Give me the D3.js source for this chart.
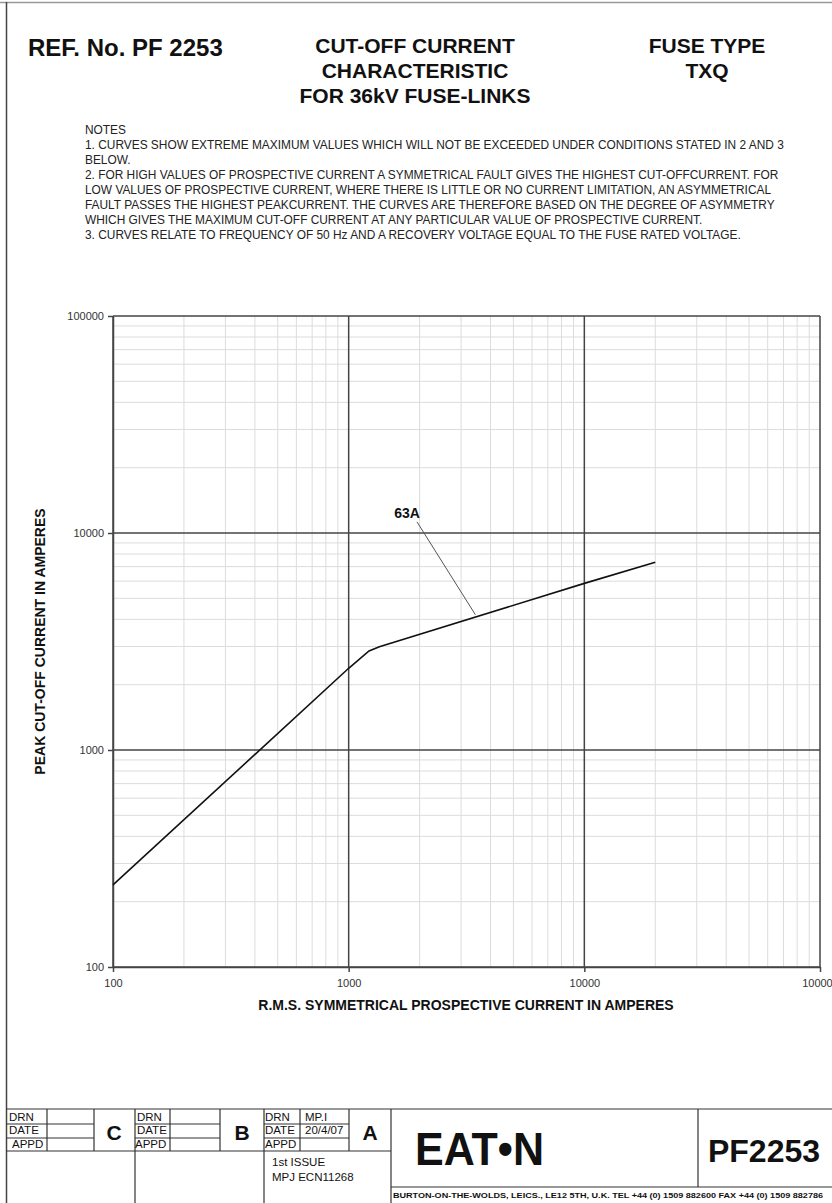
<!DOCTYPE html>
<html><head><meta charset="utf-8">
<script src="https://cdn.jsdelivr.net/npm/d3@7"></script>
<style>
html,body{margin:0;padding:0;background:#fff;}
svg{display:block;font-family:"Liberation Sans",Arial,sans-serif;}
</style></head>
<body>
<svg id="c" width="832" height="1203"></svg>
<script>
// ---- data ----
const prospective = [100, 1000, 1220, 1350, 10000, 20000];      // A rms
const cutoff63A   = [239, 2380, 2860, 2990, 5860, 7340];        // A peak
const xTickValues = [100, 1000, 10000, 100000];
const xTickLabels = ["100", "1000", "10000", "100000"];
const yTickValues = [100, 1000, 10000, 100000];
const yTickLabels = ["100", "1000", "10000", "100000"];
const curveLabel = "63A";
const labelAnchor = [1768, 11720];
const pointerFrom = [1950, 11250];
const pointerTo = [3450, 4200];
const notes = [
 "NOTES",
 "1. CURVES SHOW EXTREME MAXIMUM VALUES WHICH WILL NOT BE EXCEEDED UNDER CONDITIONS STATED IN 2 AND 3",
 "BELOW.",
 "2. FOR HIGH VALUES OF PROSPECTIVE CURRENT A SYMMETRICAL FAULT GIVES THE HIGHEST CUT-OFFCURRENT. FOR",
 "LOW VALUES OF PROSPECTIVE CURRENT, WHERE THERE IS LITTLE OR NO CURRENT LIMITATION, AN ASYMMETRICAL",
 "FAULT PASSES THE HIGHEST PEAKCURRENT. THE CURVES ARE THEREFORE BASED ON THE DEGREE OF ASYMMETRY",
 "WHICH GIVES THE MAXIMUM CUT-OFF CURRENT AT ANY PARTICULAR VALUE OF PROSPECTIVE CURRENT.",
 "3. CURVES RELATE TO FREQUENCY OF 50 Hz AND A RECOVERY VOLTAGE EQUAL TO THE FUSE RATED VOLTAGE."
];

const svg = d3.select("#c");
const L = 113, R = 820, T = 316, B = 967;
const x = d3.scaleLog().domain([100, 100000]).range([L, R]);
const y = d3.scaleLog().domain([100, 100000]).range([B, T]);

// page frame
svg.append("line").attr("x1",0).attr("x2",832).attr("y1",2.5).attr("y2",2.5).attr("stroke","#999").attr("stroke-width",1.5);
svg.append("line").attr("x1",6.5).attr("x2",6.5).attr("y1",2).attr("y2",1203).attr("stroke","#444").attr("stroke-width",1.5);

// titles
const tt = svg.append("g").attr("font-weight","bold").attr("fill","#111");
tt.append("text").attr("x",28).attr("y",56).attr("font-size",24).text("REF. No. PF 2253");
[["CUT-OFF CURRENT",53],["CHARACTERISTIC",78],["FOR 36kV FUSE-LINKS",103]].forEach(d=>{
  tt.append("text").attr("x",415).attr("y",d[1]).attr("font-size",21).attr("text-anchor","middle").text(d[0]);
});
[["FUSE TYPE",53],["TXQ",78]].forEach(d=>{
  tt.append("text").attr("x",707).attr("y",d[1]).attr("font-size",21).attr("text-anchor","middle").text(d[0]);
});

// notes
const ng = svg.append("g").attr("font-size",11.9).attr("fill","#222");
notes.forEach((s,i)=>{
  ng.append("text").attr("x",85).attr("y",134+i*15).text(s);
});

// minor grid
const minors = [];
for (let d=100; d<100000; d*=10) for (let k=2;k<=9;k++) minors.push(d*k);
const g = svg.append("g");
g.selectAll(".vx").data(minors).join("line")
  .attr("x1",d=>x(d)).attr("x2",d=>x(d)).attr("y1",T).attr("y2",B)
  .attr("stroke","#dcdcdc").attr("stroke-width",1);
g.selectAll(".hy").data(minors).join("line")
  .attr("y1",d=>y(d)).attr("y2",d=>y(d)).attr("x1",L).attr("x2",R)
  .attr("stroke","#dcdcdc").attr("stroke-width",1);
// major grid
g.selectAll(".mx").data(xTickValues).join("line")
  .attr("x1",d=>x(d)).attr("x2",d=>x(d)).attr("y1",T).attr("y2",B)
  .attr("stroke","#444").attr("stroke-width",1.5);
g.selectAll(".my").data(yTickValues).join("line")
  .attr("y1",d=>y(d)).attr("y2",d=>y(d)).attr("x1",L).attr("x2",R)
  .attr("stroke","#444").attr("stroke-width",1.5);

// axes
const xAxis = d3.axisBottom(x).tickValues(xTickValues).tickFormat((d,i)=>xTickLabels[i]).tickSize(5).tickSizeOuter(0);
const xa = svg.append("g").attr("transform",`translate(0,${B})`).call(xAxis);
xa.select(".domain").attr("stroke","#444").attr("stroke-width",1.5);
xa.selectAll(".tick line").attr("stroke","#444").attr("stroke-width",1.5);
xa.selectAll(".tick text").attr("font-size",11).attr("fill","#333").attr("dy","0.35em").attr("y",16)
  .attr("font-family","Liberation Sans, Arial, sans-serif");
const yAxis = d3.axisLeft(y).tickValues(yTickValues).tickFormat((d,i)=>yTickLabels[i]).tickSize(5).tickSizeOuter(0);
const ya = svg.append("g").attr("transform",`translate(${L},0)`).call(yAxis);
ya.select(".domain").attr("stroke","#444").attr("stroke-width",1.5);
ya.selectAll(".tick line").attr("stroke","#444").attr("stroke-width",1.5);
ya.selectAll(".tick text").attr("font-size",11).attr("fill","#333").attr("x",-9)
  .attr("font-family","Liberation Sans, Arial, sans-serif");

// axis titles
svg.append("text").attr("x",466).attr("y",1010).attr("text-anchor","middle").attr("font-size",14)
  .attr("font-weight","bold").attr("fill","#111").text("R.M.S. SYMMETRICAL PROSPECTIVE CURRENT IN AMPERES");
svg.append("text").attr("transform",`translate(45,${(T+B)/2}) rotate(-90)`).attr("text-anchor","middle")
  .attr("font-size",14).attr("font-weight","bold").attr("fill","#111").text("PEAK CUT-OFF CURRENT IN AMPERES");

// curve
const pts = prospective.map((v,i)=>[v,cutoff63A[i]]);
svg.append("path").datum(pts)
  .attr("d", d3.line().x(d=>x(d[0])).y(d=>y(d[1])))
  .attr("fill","none").attr("stroke","#111").attr("stroke-width",1.6);
svg.append("line").attr("x1",x(pointerFrom[0])).attr("y1",y(pointerFrom[1]))
  .attr("x2",x(pointerTo[0])).attr("y2",y(pointerTo[1])).attr("stroke","#555").attr("stroke-width",1);
svg.append("text").attr("x",x(labelAnchor[0])).attr("y",y(labelAnchor[1])).attr("text-anchor","middle")
  .attr("font-size",14).attr("font-weight","bold").attr("fill","#111").text(curveLabel);

// title block
const tb = svg.append("g").attr("stroke","#333").attr("stroke-width",1.2).attr("fill","none");
const ln = (x1,y1,x2,y2)=>tb.append("line").attr("x1",x1).attr("y1",y1).attr("x2",x2).attr("y2",y2);
ln(6,1109,832,1109);
[1124,1138].forEach(yy=>{ ln(6,yy,94,yy); ln(135,yy,220,yy); ln(264,yy,349,yy); });
ln(6,1151,391,1151);
[47,170,300].forEach(xx=>ln(xx,1109,xx,1151));
[94,220,349].forEach(xx=>ln(xx,1109,xx,1151));
[135,264,391].forEach(xx=>ln(xx,1109,xx,1203));
ln(698,1109,698,1187);
ln(391,1187,832,1187);

const tx = svg.append("g").attr("fill","#111").attr("font-size",11.5);
[[9,"DRN",1121],[9,"DATE",1134],[12,"APPD",1148]].forEach(d=>tx.append("text").attr("x",d[0]).attr("y",d[2]).text(d[1]));
[[137,"DRN",1121],[137,"DATE",1134],[135,"APPD",1148]].forEach(d=>tx.append("text").attr("x",d[0]).attr("y",d[2]).text(d[1]));
[[265,"DRN",1121],[265,"DATE",1134],[265,"APPD",1148]].forEach(d=>tx.append("text").attr("x",d[0]).attr("y",d[2]).text(d[1]));
tx.append("text").attr("x",305).attr("y",1121).text("MP.I");
tx.append("text").attr("x",305).attr("y",1134).text("20/4/07");
tx.append("text").attr("x",272).attr("y",1166).text("1st ISSUE");
tx.append("text").attr("x",272).attr("y",1181).text("MPJ ECN11268");
[["C",114],["B",242],["A",370]].forEach(d=>{
  tx.append("text").attr("x",d[1]).attr("y",1140).attr("text-anchor","middle").attr("font-size",21)
    .attr("font-weight","bold").text(d[0]);
});
tx.append("text").attr("x",415).attr("y",1165).attr("font-size",47).attr("font-weight","900")
  .attr("textLength",129).attr("lengthAdjust","spacingAndGlyphs").text("EAT•N");
tx.append("text").attr("x",764).attr("y",1162).attr("text-anchor","middle").attr("font-size",32)
  .attr("font-weight","bold").text("PF2253");
tx.append("text").attr("x",393).attr("y",1198).attr("font-size",7.2).attr("font-weight","bold")
  .attr("textLength",430).attr("lengthAdjust","spacingAndGlyphs")
  .text("BURTON-ON-THE-WOLDS, LEICS., LE12 5TH, U.K. TEL +44 (0) 1509 882600   FAX  +44 (0) 1509 882786");
</script>
</body></html>
